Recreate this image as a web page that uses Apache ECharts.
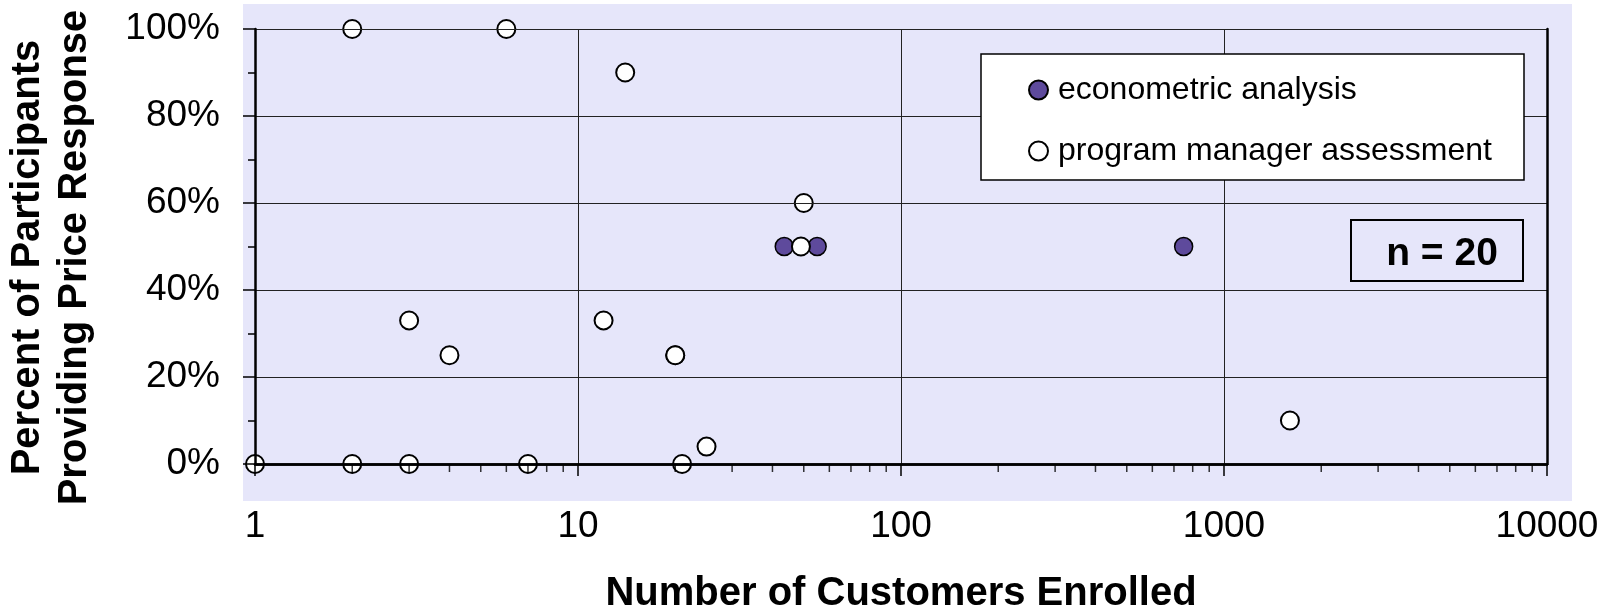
<!DOCTYPE html>
<html>
<head>
<meta charset="utf-8">
<script src="https://cdn.jsdelivr.net/npm/echarts@6/dist/echarts.min.js"></script>
<style>
html,body{margin:0;padding:0;background:#fff;}
#chart{width:1613px;height:608px;}
</style>
</head>
<body>
<div id="chart"></div>
<script>
// ---- data ----
var seriesNames = ['econometric analysis', 'program manager assessment'];
var econX = [43.5, 55, 750];
var econY = [50, 50, 50];
var pmX = [1, 2, 6, 14, 50, 49, 3, 4, 12, 20, 20, 25, 21, 2, 3, 7, 1600];
var pmY = [0, 100, 100, 90, 60, 50, 33, 25, 33, 25, 25, 4, 0, 0, 0, 0, 10];
var xTickLabels = ['1', '10', '100', '1000', '10000'];
var yTickLabels = ['0%', '20%', '40%', '60%', '80%', '100%'];
var xMinorTicks = [2,3,4,5,6,7,8,9,20,30,40,50,60,70,80,90,200,300,400,500,600,700,800,900,2000,3000,4000,5000,6000,7000,8000,9000];
var xTitle = 'Number of Customers Enrolled';
var yTitle = 'Percent of Participants\nProviding Price Response';
var nLabel = 'n = 20';

function pairs(xs, ys) { return xs.map(function (x, i) { return [x, ys[i]]; }); }

var FONT = 'Arial, "Liberation Sans", sans-serif';
var chart = echarts.init(document.getElementById('chart'), null, {renderer: 'canvas'});

var option = {
  backgroundColor: '#ffffff',
  animation: false,
  grid: {left: 255, top: 29, width: 1292, height: 435, outerBoundsMode: 'none', containLabel: false},
  graphic: [
    {type: 'rect', z: -10, silent: true, shape: {x: 243, y: 4, width: 1329, height: 497}, style: {fill: '#E6E6FA'}},
    {type: 'rect', z: 4, silent: true, shape: {x: 981, y: 54, width: 543, height: 126}, style: {fill: '#ffffff', stroke: '#000', lineWidth: 1.5}},
    {type: 'rect', z: 4, silent: true, shape: {x: 1351, y: 220, width: 172, height: 61}, style: {fill: 'rgba(0,0,0,0)', stroke: '#000', lineWidth: 2}},
    {type: 'text', z: 4, silent: true, x: 1442, y: 254, style: {text: nLabel, fill: '#000', fontSize: 39, fontWeight: 'bold', fontFamily: FONT, align: 'center', verticalAlign: 'middle'}}
  ],
  legend: {
    data: seriesNames,
    orient: 'vertical',
    left: 1028, top: 74,
    padding: 0,
    itemGap: 29,
    itemWidth: 19, itemHeight: 19,
    selectedMode: false,
    z: 5,
    textStyle: {color: '#000', fontSize: 32, fontFamily: FONT, padding: [0, 0, 0, 5]}
  },
  xAxis: [{
    type: 'log', logBase: 10, min: 1, max: 10000,
    position: 'bottom', z: 3,
    name: xTitle, nameLocation: 'middle', nameGap: 110,
    nameTextStyle: {color: '#000', fontSize: 40, fontWeight: 'bold', fontFamily: FONT},
    axisLine: {show: true, lineStyle: {color: '#000', width: 2.5}},
    axisTick: {show: true, length: 12, lineStyle: {color: '#000', width: 1.5}},
    minorTick: {show: false},
    axisLabel: {show: true, margin: 44, color: '#000', fontSize: 37, fontFamily: FONT,
      formatter: function (v, i) { return xTickLabels[i] !== undefined ? xTickLabels[i] : String(Math.round(v)); }},
    splitLine: {show: true, lineStyle: {color: '#222', width: 1}}
  }, {
    type: 'log', logBase: 10, min: 1, max: 10000,
    position: 'top', z: 3,
    axisLine: {show: true, lineStyle: {color: '#000', width: 2.5}},
    axisTick: {show: false}, axisLabel: {show: false}, splitLine: {show: false}
  }],
  yAxis: [{
    type: 'value', min: 0, max: 100, interval: 20,
    position: 'left', z: 3,
    name: yTitle, nameLocation: 'middle', nameGap: 157, nameRotate: 90,
    nameTextStyle: {color: '#000', fontSize: 40, fontWeight: 'bold', fontFamily: FONT, lineHeight: 47, align: 'center', padding: [0, 22, 0, 0]},
    axisLine: {show: true, lineStyle: {color: '#000', width: 2.5}},
    axisTick: {show: true, length: 12, lineStyle: {color: '#000', width: 1.5}},
    minorTick: {show: true, splitNumber: 2, length: 7, lineStyle: {color: '#000', width: 1.5}},
    axisLabel: {show: true, margin: 35, color: '#000', fontSize: 37, fontFamily: FONT,
      formatter: function (v, i) { return yTickLabels[i] !== undefined ? yTickLabels[i] : v + '%'; }},
    splitLine: {show: true, lineStyle: {color: '#222', width: 1}}
  }, {
    type: 'value', min: 0, max: 100, interval: 20,
    position: 'right', z: 3,
    axisLine: {show: true, lineStyle: {color: '#000', width: 2.5}},
    axisTick: {show: false}, axisLabel: {show: false}, splitLine: {show: false}
  }],
  series: [
    {
      name: seriesNames[0], type: 'scatter', xAxisIndex: 0, yAxisIndex: 0,
      symbol: 'circle', symbolSize: 18, z: 2,
      itemStyle: {color: '#5E4A9C', borderColor: '#000', borderWidth: 1.5, opacity: 1},
      data: pairs(econX, econY)
    },
    {
      name: seriesNames[1], type: 'scatter', xAxisIndex: 0, yAxisIndex: 0,
      symbol: 'circle', symbolSize: 18, z: 2,
      itemStyle: {color: '#ffffff', borderColor: '#000', borderWidth: 2, opacity: 1},
      data: pairs(pmX, pmY)
    },
    {
      name: 'minorTicks', type: 'scatter', xAxisIndex: 0, yAxisIndex: 0,
      symbol: 'rect', symbolSize: [1.5, 8], symbolOffset: [0, 4], z: 3, silent: true,
      clip: false,
      itemStyle: {color: '#000'},
      emphasis: {disabled: true},
      data: xMinorTicks.map(function (v) { return [v, 0]; })
    }
  ]
};
chart.setOption(option);
</script>
</body>
</html>
